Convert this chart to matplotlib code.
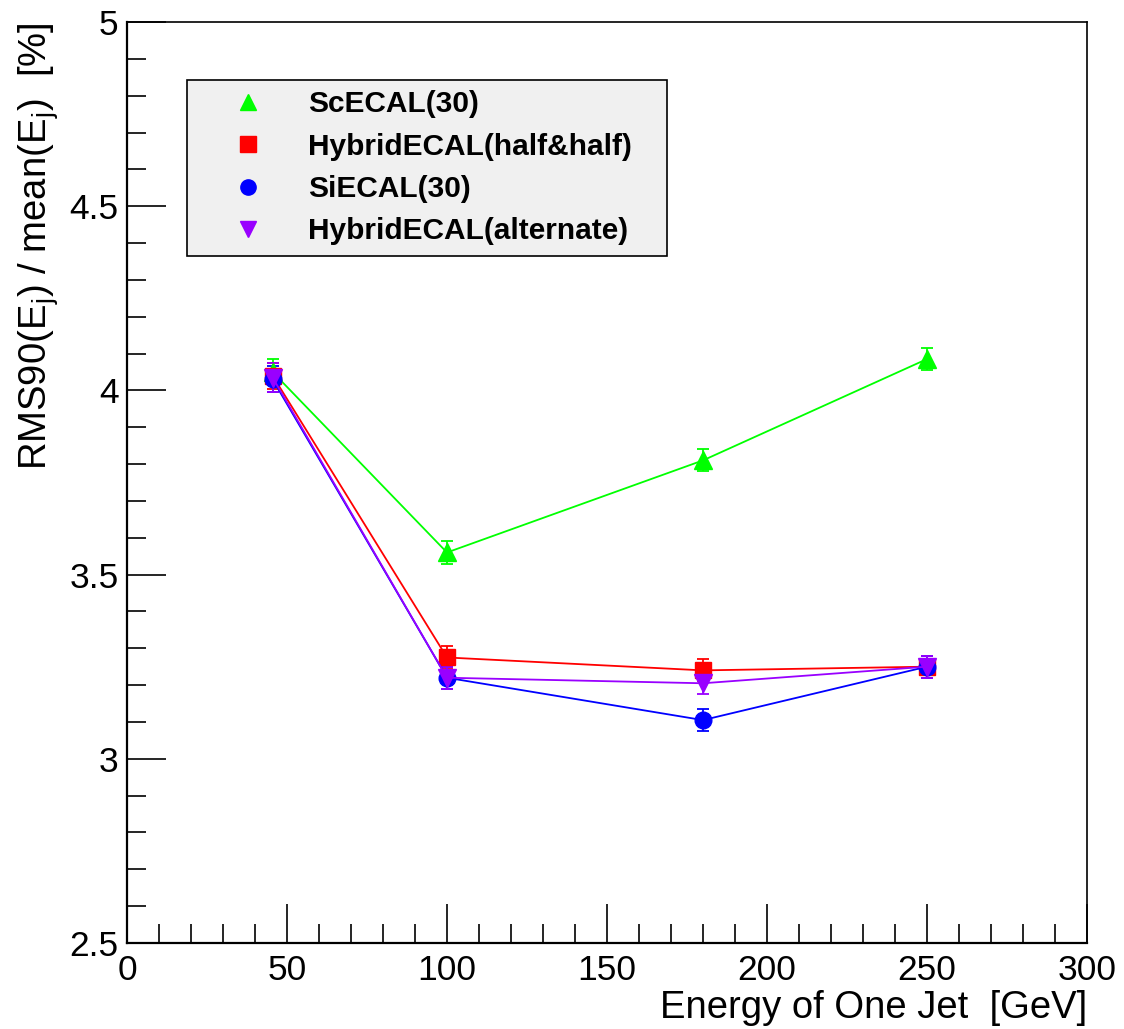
import matplotlib.pyplot as plt
from matplotlib.lines import Line2D
from matplotlib.ticker import MultipleLocator

plt.rcParams['font.family'] = ['Liberation Sans', 'DejaVu Sans']
plt.rcParams['mathtext.fontset'] = 'custom'
plt.rcParams['mathtext.rm'] = 'Liberation Sans'
plt.rcParams['mathtext.it'] = 'Liberation Sans'

# jet energies [GeV]
energy = [45.5, 100, 180, 250]

# RMS90 / mean [%]
sc_ecal = [4.05, 3.56, 3.81, 4.085]
sc_err = [0.035, 0.03, 0.03, 0.03]
hybrid_half = [4.04, 3.275, 3.24, 3.25]
hybrid_half_err = [0.035, 0.03, 0.03, 0.03]
si_ecal = [4.03, 3.22, 3.105, 3.25]
si_err = [0.035, 0.03, 0.03, 0.03]
hybrid_alt = [4.035, 3.22, 3.205, 3.25]
hybrid_alt_err = [0.04, 0.03, 0.03, 0.03]

labels = ['ScECAL(30)', 'HybridECAL(half&half)', 'SiECAL(30)', 'HybridECAL(alternate)']
colors = ['#00ff00', '#ff0000', '#0000ff', '#9900ff']
markers = ['^', 's', 'o', 'v']
msizes = [13, 12, 12, 13]

fig = plt.figure(figsize=(11.24, 10.29), dpi=100)
ax = fig.add_axes([0.113, 0.0836, 0.854, 0.895])

series = [(sc_ecal, sc_err), (hybrid_half, hybrid_half_err), (si_ecal, si_err), (hybrid_alt, hybrid_alt_err)]
for (y, e), c, m, ms in zip(series, colors, markers, msizes):
    ax.errorbar(energy, y, yerr=e, color=c, marker=m, markersize=ms, linewidth=1.3,
                elinewidth=1.3, capsize=4, capthick=1.3)

ax.set_xlim(0, 300)
ax.set_ylim(2.5, 5)
ax.xaxis.set_major_locator(MultipleLocator(50))
ax.xaxis.set_minor_locator(MultipleLocator(10))
ax.yaxis.set_major_locator(MultipleLocator(0.5))
ax.yaxis.set_minor_locator(MultipleLocator(0.1))
ax.yaxis.set_major_formatter(plt.FuncFormatter(lambda v, p: ('%g' % v)))
ax.tick_params(which='both', direction='in', top=False, right=False, labelsize=25.5, width=1.2)
ax.tick_params(which='major', length=28)
ax.tick_params(which='minor', length=14)
ax.tick_params(axis='x', pad=8)
ax.tick_params(axis='y', pad=6)

for s in ['left', 'bottom']:
    ax.spines[s].set_linewidth(1.6)
for s in ['top', 'right']:
    ax.spines[s].set_linewidth(1.2)

ax.set_xlabel('Energy of One Jet  [GeV]', fontsize=27.5, loc='right', labelpad=2)
ax.set_ylabel(r'RMS90(E$_{\rm j}$) / mean(E$_{\rm j}$)  [%]', fontsize=27.5, loc='top', labelpad=6)

handles = [Line2D([], [], color=c, marker=m, linestyle='none', markersize=ms - 1)
           for c, m, ms in zip(colors, markers, msizes)]
leg = ax.legend(handles, labels, loc='upper left', bbox_to_anchor=(0.0625, 0.937, 0.5, 0.0),
                mode='expand',
                prop={'weight': 'bold', 'size': 21.5}, frameon=True, fancybox=False,
                edgecolor='black', facecolor='#f0f0f0', framealpha=1,
                handlelength=3.4, handletextpad=0.3, labelspacing=0.48,
                borderpad=0.35, borderaxespad=0)
leg.get_frame().set_linewidth(1.2)

plt.savefig('out.png', dpi=100)
